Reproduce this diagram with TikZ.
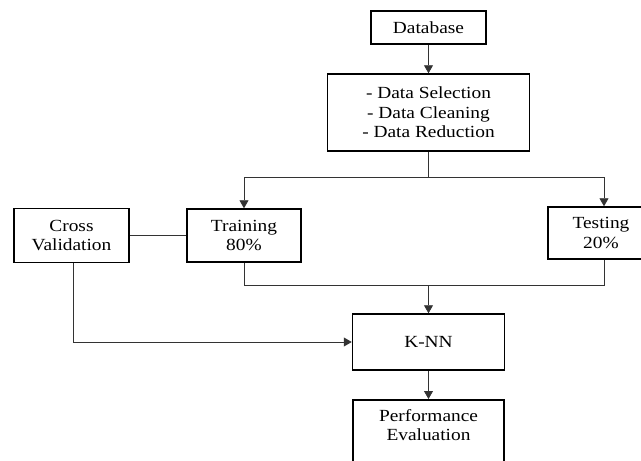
\documentclass[tikz,border=0pt]{standalone}
\usepackage{fontspec}
\setmainfont{Liberation Serif}[FakeStretch=1.14]
\usetikzlibrary{arrows.meta,positioning}
\tikzset{
  box/.style={draw=black, line width=1.5pt, align=center, inner sep=0pt,
    font=\fontsize{17}{19.5}\selectfont},
  conn/.style={draw=black!80, line width=0.8pt},
  arr/.style={conn, -{Triangle[length=8pt,width=9pt]}},
  lbl/.style={align=center, inner sep=0pt, font=\fontsize{17}{19.5}\selectfont}
}
\begin{document}
\begin{tikzpicture}[x=1pt,y=-1pt]
\useasboundingbox (0,0) rectangle (641,461);
\clip (0,0) rectangle (641,461);
\fill[white] (0,0) rectangle (641,461);
\node[box, minimum width=115, minimum height=33] (db) at (428.5,27.5) {Database};
\node[box, minimum width=202, minimum height=77] (proc) at (428.5,112.5) {- Data Selection\\- Data Cleaning\\- Data Reduction};
\node[box, minimum width=115, minimum height=54] (cv) at (71.5,235.5) {Cross\\Validation};
\node[box, minimum width=114, minimum height=53] (train) at (244,235.5) {Training\\80\%};
\node[box, minimum width=106, minimum height=52] (test) at (601,233) {Testing\\20\%};
\node[box, minimum width=152, minimum height=56] (knn) at (428.5,342) {K-NN};
\node[box, minimum width=151, minimum height=80, anchor=north] (perf) at (428.5,399) {};
\node[lbl, anchor=north] (perftext) at (428.5,409) {Performance\\Evaluation};
\coordinate (split) at (428.5,177);
\coordinate (join) at (428.5,285);
\draw[arr] (db.south) -- (proc.north);
\draw[conn] (proc.south) -- (split);
\draw[arr] (split) -| (train.north);
\draw[arr] (split) -| ([xshift=3pt]test.north);
\draw[conn] (train.south) |- (join);
\draw[conn] ([xshift=3pt]test.south) |- (join);
\draw[arr] (join) -- (knn.north);
\draw[conn] (cv.east) -- (train.west);
\draw[arr] ([xshift=1.5pt]cv.south) |- (knn.west);
\draw[arr] (knn.south) -- (perf.north);
\end{tikzpicture}
\end{document}
